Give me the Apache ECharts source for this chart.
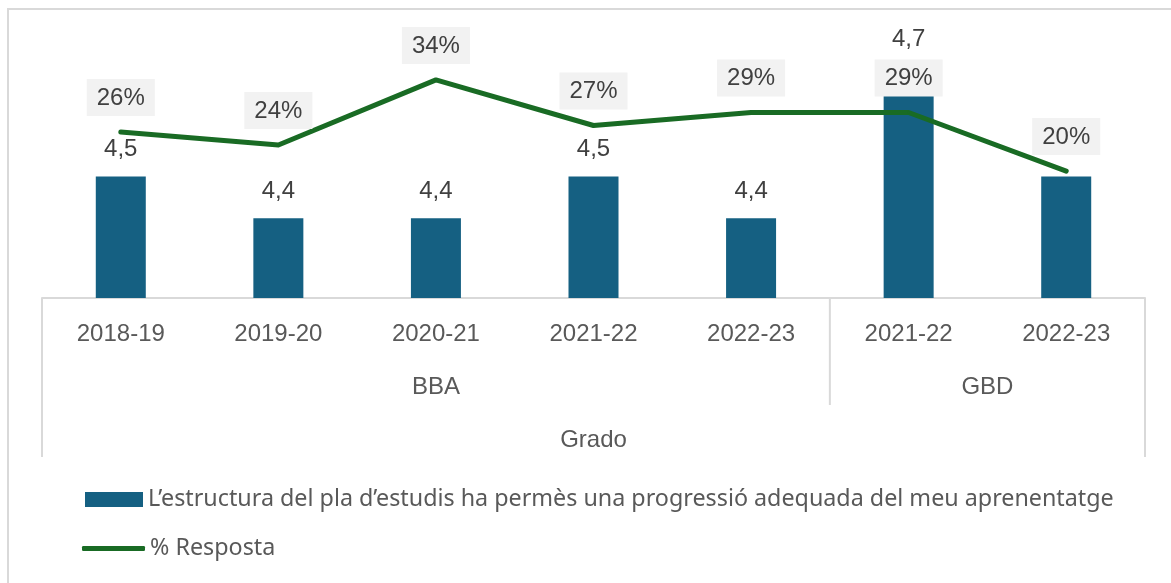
<!DOCTYPE html>
<html>
<head>
<meta charset="utf-8">
<script src="https://cdn.jsdelivr.net/npm/echarts@6/dist/echarts.min.js"></script>
<style>
  html, body { margin: 0; padding: 0; background: #ffffff; }
  #chart { width: 1171px; height: 583px; }
</style>
</head>
<body>
<div id="chart"></div>
<script>
// Academic years (first level of the category axis)
const years = ['2018-19', '2019-20', '2020-21', '2021-22', '2022-23', '2021-22', '2022-23'];
// Programme groups (second level): name and number of years it spans
const groupNames = ['BBA', 'GBD'];
const groupSizes = [5, 2];
// Third level
const topLevel = 'Grado';

// Mean score per year
const scoreName = 'L\u2019estructura del pla d\u2019estudis ha permès una progressió adequada del meu aprenentatge';
const scores = [4.5, 4.4, 4.4, 4.5, 4.4, 4.7, 4.5];
// Response rate (%)
const rateName = '% Resposta';
const rates = [26, 24, 34, 27, 29, 29, 20];

const BAR = '#156082';
const LINE = '#196B24';
const AXIS = '#d9d9d9';
const TXT = '#404040';
const TXT2 = '#595959';
const FONT = 'Liberation Sans, Arial, sans-serif';
const LEGEND_FONT = 'Noto Sans, sans-serif';

// per-bar label nudges where labels would collide with the rate labels
const barLabelOffsets = { 5: [0, -26], 6: [0, -8] };

const chart = echarts.init(document.getElementById('chart'), null, { renderer: 'canvas' });

const catData = years.map((y, i) => i + ':' + y);

chart.setOption({
  animation: false,
  backgroundColor: '#ffffff',
  grid: { left: 42, right: 26, top: 38, bottom: 285, containLabel: false },
  legend: [
    {
      data: [{ name: scoreName, icon: 'rect' }],
      left: 85, top: 488, orient: 'vertical', padding: 0,
      itemWidth: 58, itemHeight: 15,
      selectedMode: false,
      textStyle: { fontFamily: LEGEND_FONT, fontSize: 23.3, color: TXT2 }
    },
    {
      data: [{ name: rateName, icon: 'roundRect', itemStyle: { color: LINE } }],
      left: 82, top: 537, orient: 'vertical', padding: 0,
      itemWidth: 63, itemHeight: 5,
      selectedMode: false,
      textStyle: { fontFamily: LEGEND_FONT, fontSize: 23.3, color: TXT2 }
    }
  ],
  xAxis: {
    type: 'category',
    data: catData,
    axisLine: { show: true, lineStyle: { color: AXIS, width: 2 } },
    axisTick: { show: false },
    axisLabel: {
      interval: 0, margin: 24, fontSize: 24, color: TXT2, fontFamily: FONT,
      formatter: v => v.split(':')[1]
    },
    splitLine: { show: false }
  },
  yAxis: [
    { type: 'value', min: 4.21, max: 4.83, show: false, splitLine: { show: false } },
    { type: 'value', min: 0.5, max: 40.44, show: false, splitLine: { show: false } }
  ],
  series: [
    {
      name: scoreName,
      type: 'bar',
      yAxisIndex: 0,
      barWidth: 50,
      z: 2,
      itemStyle: { color: BAR },
      data: scores.map((v, i) => barLabelOffsets[i]
        ? { value: v, label: { offset: barLabelOffsets[i] } }
        : v),
      label: {
        show: true, position: 'top', distance: 15,
        fontSize: 24, color: TXT, fontFamily: FONT,
        formatter: p => p.value.toFixed(1).replace('.', ',')
      }
    },
    {
      name: rateName,
      type: 'line',
      yAxisIndex: 1,
      z: 5,
      symbol: 'circle',
      symbolSize: 2,
      showSymbol: true,
      lineStyle: { color: LINE, width: 5, cap: 'round', join: 'round' },
      itemStyle: { color: LINE },
      data: rates,
      label: {
        show: true, position: 'top', distance: 15,
        fontSize: 24, color: TXT, fontFamily: FONT,
        backgroundColor: '#f2f2f2', padding: [7, 10, 6, 10],
        formatter: p => p.value + '%'
      },
      labelLayout: { hideOverlap: false }
    }
  ]
});

// Multi-level category frame: separators and group captions placed on the axis scale
const centers = catData.map(c => chart.convertToPixel({ xAxisIndex: 0 }, c));
const band = centers[1] - centers[0];
const axisY = chart.convertToPixel({ yAxisIndex: 0 }, 4.21);
const edges = [centers[0] - band / 2];
let k = 0;
groupSizes.forEach(n => { k += n; edges.push(centers[k - 1] + band / 2); });

const graphics = [
  // chart border
  { type: 'rect', shape: { x: 8, y: 9, width: 1200, height: 620 },
    style: { fill: null, stroke: AXIS, lineWidth: 2 }, silent: true }
];
// outer verticals span all three levels, inner ones stop after the group level
edges.forEach((x, i) => {
  const outer = i === 0 || i === edges.length - 1;
  graphics.push({
    type: 'line',
    shape: { x1: x, y1: axisY, x2: x, y2: outer ? axisY + 159 : axisY + 107 },
    style: { stroke: AXIS, lineWidth: 2 }, silent: true
  });
});
groupNames.forEach((g, i) => {
  graphics.push({
    type: 'text',
    x: (edges[i] + edges[i + 1]) / 2, y: axisY + 89,
    style: { text: g, fontSize: 24, fill: TXT2, fontFamily: FONT, align: 'center', verticalAlign: 'middle' },
    silent: true
  });
});
graphics.push({
  type: 'text',
  x: (edges[0] + edges[edges.length - 1]) / 2, y: axisY + 142,
  style: { text: topLevel, fontSize: 24, fill: TXT2, fontFamily: FONT, align: 'center', verticalAlign: 'middle' },
  silent: true
});

chart.setOption({ graphic: graphics });
</script>
</body>
</html>
